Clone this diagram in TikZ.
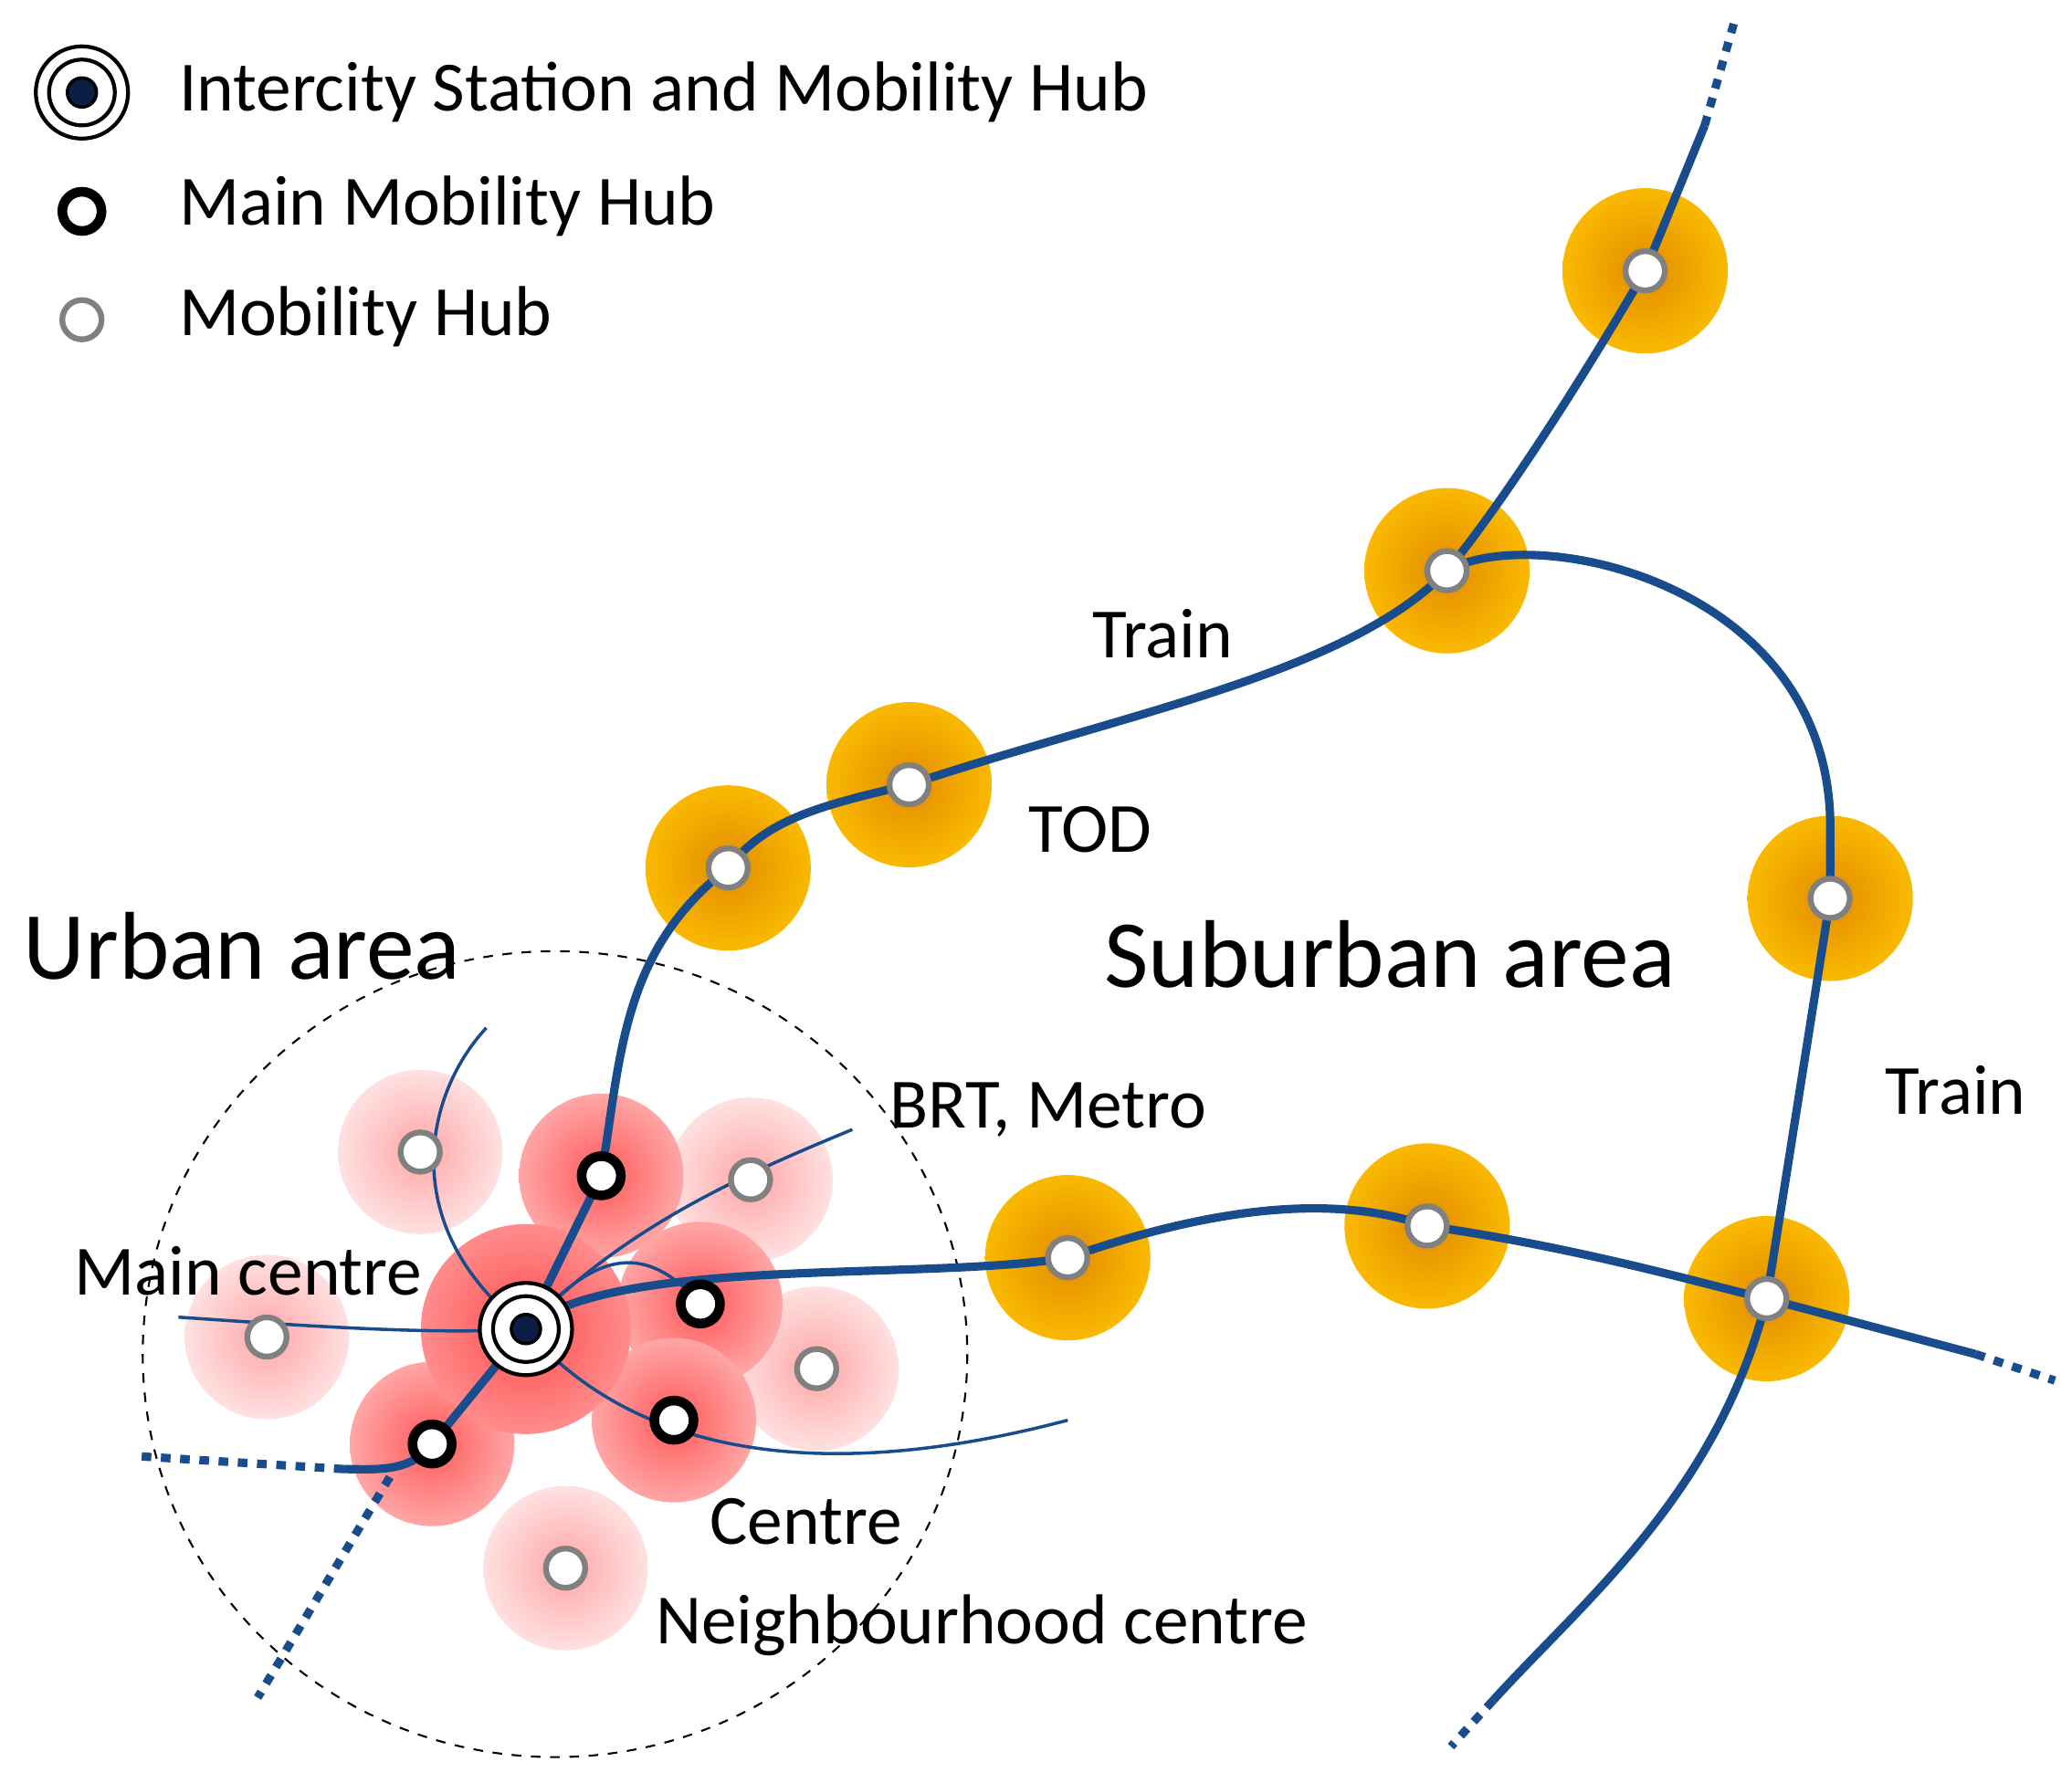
\documentclass[tikz,border=0pt]{standalone}
\usepackage{fontspec}
\setmainfont{Carlito}
\begin{document}
\begin{tikzpicture}[x=0.01447cm,y=-0.01447cm,
  tod/.style={circle,minimum size=1.81cm,inner sep=0,inner color={rgb,255:red,225;green,140;blue,0},outer color={rgb,255:red,250;green,185;blue,0}},
  pinkl/.style={circle,minimum size=1.8cm,inner sep=0,inner color=red!35,outer color=red!12},
  pinkd/.style={circle,minimum size=1.8cm,inner sep=0,inner color=red!65,outer color=red!35},
  hub/.style={circle,draw=gray,line width=1.8pt,fill=white,minimum size=0.43cm,inner sep=0},
  mhub/.style={circle,draw=black,line width=3pt,fill=white,minimum size=0.43cm,inner sep=0},
  rail/.style={draw={rgb,255:red,24;green,76;blue,140},line width=2.6pt},
  thin/.style={draw={rgb,255:red,24;green,76;blue,140},line width=1pt},
  dots/.style={rail,dash pattern=on 3pt off 3pt},
  lab/.style={font=\fontsize{22}{24}\selectfont,inner sep=0},
  big/.style={font=\fontsize{30}{33}\selectfont,inner sep=0}]
\useasboundingbox (0,0) rectangle (1568,1349);
% legend
\node[circle,draw,line width=1.2pt,minimum size=1.01cm,inner sep=0] (l1) at (62,70) {};
\node[circle,draw,line width=1.2pt,minimum size=0.72cm,inner sep=0] at (62,70) {};
\node[circle,draw=black,line width=1pt,fill={rgb,255:red,10;green,30;blue,70},minimum size=0.32cm,inner sep=0] at (62,70) {};
\node[mhub] (l2) at (62,160) {};
\node[hub] (l3) at (62,242) {};
\node[lab,anchor=west] at (135,70) {Intercity Station and Mobility Hub};
\node[lab,anchor=west] at (135,156) {Main Mobility Hub};
\node[lab,anchor=west] at (135,240) {Mobility Hub};
% areas
\draw[dashed,line width=0.6pt] (420,1025) ellipse [x radius=312,y radius=305];
\node[pinkl] at (318,872) {};
\node[pinkl] at (568,893) {};
\node[pinkl] at (202,1012) {};
\node[pinkl] at (618,1036) {};
\node[pinkl] at (428,1187) {};
\node[pinkd] at (455,890) {};
\node[pinkd] at (530,987) {};
\node[pinkd] at (510,1075) {};
\node[pinkd] at (327,1093) {};
\node[circle,minimum size=2.3cm,inner sep=0,inner color=red!70,outer color=red!45] at (398,1006) {};
\coordinate (H) at (398,1006);
\coordinate (A) at (1245,205); \coordinate (B) at (1095,432); \coordinate (C) at (688,594);
\coordinate (D) at (551,657); \coordinate (E) at (1385,680); \coordinate (F) at (808,952);
\coordinate (G) at (1080,928); \coordinate (K) at (1337,983);
\coordinate (M1) at (455,890); \coordinate (M2) at (530,987); \coordinate (M3) at (510,1075); \coordinate (M4) at (327,1093);
\foreach \p in {A,B,C,D,E,F,G,K} \node[tod] at (\p) {};
% thin lines
\draw[thin] (368,778) .. controls (320,830) and (300,930) .. (H);
\draw[thin] (645,855) .. controls (560,890) and (470,930) .. (H);
\draw[thin] (135,997) .. controls (250,1005) and (330,1010) .. (H);
\draw[thin] (H) .. controls (470,1090) and (600,1130) .. (808,1075);
\draw[thin] (H) .. controls (440,960) and (480,930) .. (M2);
% rails
\draw[rail] (1290,95) -- (A) .. controls (1190,300) and (1130,390) .. (B)
  .. controls (1020,510) and (850,540) .. (C) .. controls (620,610) and (580,620) .. (D)
  .. controls (470,720) and (470,800) .. (M1) -- (H) -- (M4) .. controls (310,1115) and (285,1112) .. (260,1112);
\draw[dots] (1290,95) -- (1312,18);
\draw[dots] (260,1112) -- (100,1102);
\draw[dots] (295,1118) -- (195,1285);
\draw[rail] (B) .. controls (1160,395) and (1380,440) .. (1385,620) -- (E) -- (K) .. controls (1300,1130) and (1200,1210) .. (1130,1287);
\draw[dots] (1130,1287) -- (1098,1322);
\draw[rail] (H) .. controls (460,950) and (700,970) .. (F) .. controls (900,920) and (1000,900) .. (G)
  .. controls (1200,945) and (1300,975) .. (K) -- (1495,1025);
\draw[dots] (1495,1025) -- (1555,1045);
% hubs
\foreach \p in {A,B,C,D,E,F,G,K} \node[hub] at (\p) {};
\foreach \p in {(318,872),(568,893),(202,1012),(618,1036),(428,1187)} \node[hub] at \p {};
\foreach \p in {M1,M2,M3,M4} \node[mhub] at (\p) {};
\node[circle,draw,line width=1.2pt,fill=white,minimum size=1.01cm,inner sep=0] (IC) at (H) {};
\node[circle,draw,line width=1.2pt,minimum size=0.72cm,inner sep=0] at (H) {};
\node[circle,draw=black,line width=1pt,fill={rgb,255:red,10;green,30;blue,70},minimum size=0.32cm,inner sep=0] at (H) {};
% labels
\node[lab] at (880,480) {Train};
\node[lab] at (825,628) {TOD};
\node[big] at (1052,722) {Suburban area};
\node[lab] at (1480,825) {Train};
\node[lab] at (793,840) {BRT, Metro};
\node[big] at (183,716) {Urban area};
\node[lab] at (188,962) {Main centre};
\node[lab] at (610,1152) {Centre};
\node[lab] at (743,1230) {Neighbourhood centre};
\end{tikzpicture}
\end{document}
